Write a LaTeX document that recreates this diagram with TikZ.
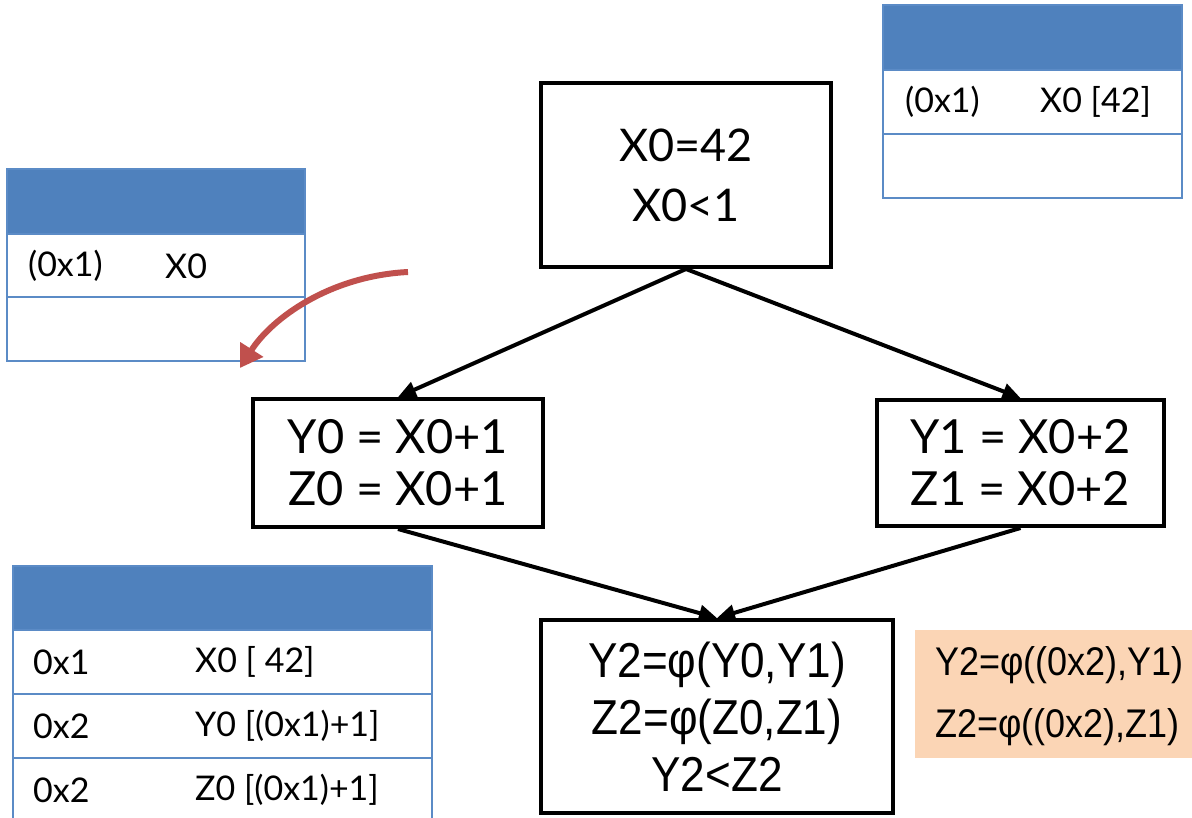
\documentclass[tikz,border=0pt]{standalone}
\usepackage{fontspec}
\setmainfont{Lato}
\newfontfamily\narrowfont[FakeStretch=0.9]{Liberation Sans}
\usetikzlibrary{arrows.meta}
\definecolor{hdrblue}{HTML}{4F81BD}
\definecolor{gridblue}{HTML}{5B8BC6}
\definecolor{arrred}{HTML}{C0504D}
\definecolor{peach}{HTML}{FBD5B5}

\begin{document}
\begin{tikzpicture}[x=1pt,y=-1pt,
  block/.style={draw=black, line width=4pt, align=center, inner sep=0pt},
  flow/.style={line width=4pt, -{Triangle[length=18pt,width=16pt]}},
  tabtext/.style={anchor=west, inner sep=0pt, font=\fontsize{34}{40}\selectfont},
  header/.style={fill=hdrblue},
  grid/.style={draw=gridblue, line width=1.6pt},
  phitext/.style={anchor=west, inner sep=0pt, font=\narrowfont\fontsize{40}{44}\selectfont}]
\useasboundingbox (0,0) rectangle (1192,818);

% control-flow blocks
\node[block, minimum width=290pt, minimum height=184pt,
      font=\fontsize{45}{60}\selectfont] (entry) at (686,175) {X0=42\\X0<1};
\node[block, minimum width=290pt, minimum height=128pt,
      font=\fontsize{47}{52}\selectfont] (thenb) at (398,463) {Y0 = X0+1\\Z0 = X0+1};
\node[block, minimum width=287pt, minimum height=126pt,
      font=\fontsize{47}{52}\selectfont] (elseb) at (1020.5,463) {Y1 = X0+2\\Z1 = X0+2};
\node[block, minimum width=352pt, minimum height=193pt,
      font=\narrowfont\fontsize{49}{57}\selectfont] (merge) at (717,716.5)
      {Y2=φ(Y0,Y1)\\Z2=φ(Z0,Z1)\\Y2<Z2};

% edges
\draw[flow] (entry.south) -- (thenb.north);
\draw[flow] (entry.south) -- (elseb.north);
\draw[flow] (thenb.south) -- (merge.north);
\draw[flow] (elseb.south) -- (merge.north);

% rewritten phi functions
\node[fill=peach, minimum width=277pt, minimum height=128pt, inner sep=0pt,
      anchor=north west] (phibox) at (915,630) {};
\node[phitext] (phiy) at (935,665) {Y2=φ((0x2),Y1)};
\node[phitext] (phiz) at (935,727) {Z2=φ((0x2),Z1)};

% table at the entry block
\fill[header] (883,5) rectangle (1182,70);
\draw[grid] (883,5) rectangle (1182,198);
\draw[grid] (883,70) -- (1182,70);
\draw[grid] (883,134) -- (1182,134);
\node[tabtext] (t3a) at (905,102) {(0x1)};
\node[tabtext] (t3b) at (1040,102) {X0 [42]};

% table before the entry block
\fill[header] (7,169) rectangle (305,234);
\draw[grid] (7,169) rectangle (305,361);
\draw[grid] (7,234) -- (305,234);
\draw[grid] (7,297) -- (305,297);
\node[tabtext] (t1a) at (28,266) {(0x1)};
\node[tabtext] (t1b) at (165,266) {X0};

% red arrow pointing into the table
\coordinate (rstart) at (408,272);
\coordinate (rend) at (240,368);
\draw[arrred, line width=6pt, -{Triangle[length=22pt,width=26pt]}]
  (rstart) .. controls (330,276) and (272,318) .. (rend);

% table at the merge block
\fill[header] (13,566) rectangle (432,630);
\draw[grid] (13,824) -- (13,566) -- (432,566) -- (432,824);
\draw[grid] (13,630) -- (432,630);
\draw[grid] (13,694) -- (432,694);
\draw[grid] (13,758) -- (432,758);
\node[tabtext] (t2a) at (33,662) {0x1};
\node[tabtext] (t2b) at (195,662) {X0 [ 42]};
\node[tabtext] (t2c) at (33,726) {0x2};
\node[tabtext] (t2d) at (195,726) {Y0 [(0x1)+1]};
\node[tabtext] (t2e) at (33,790) {0x2};
\node[tabtext] (t2f) at (195,790) {Z0 [(0x1)+1]};
\end{tikzpicture}
\end{document}
